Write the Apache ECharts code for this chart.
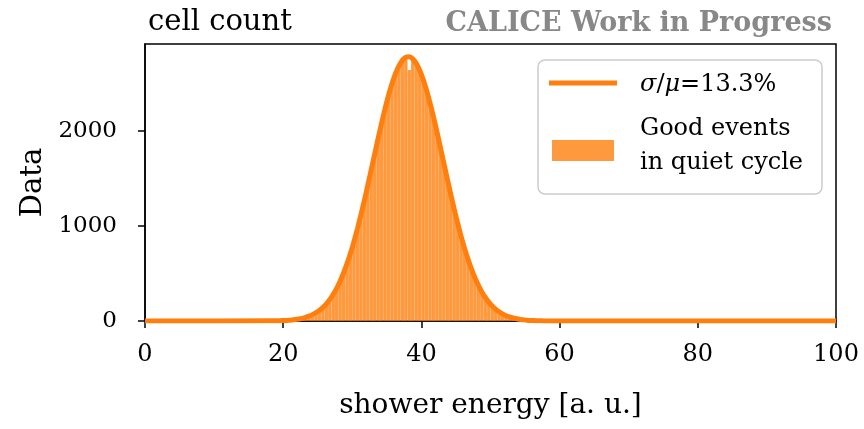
<!DOCTYPE html>
<html lang="en">

<head>
    <meta charset="UTF-8">
    <title>cell count</title>
    <script src="https://cdn.jsdelivr.net/npm/echarts@6/dist/echarts.min.js"></script>
    <style>
        body {
            margin: 0;
            background: #fff;
        }

        #main {
            width: 864px;
            height: 429px;
        }
    </style>
</head>

<body>
    <div id="main"></div>
</body>

<script>
    // histogram: bins of 0.5 starting at 15.0
    var binStart = 15.0;
    var binWidth = 0.5;
    var counts = [
        4, 5, 6, 8, 9, 11, 12, 14, 16, 18, 20, 23, 27, 31, 36, 42,
        50, 60, 74, 92, 115, 146, 184, 232, 290, 352, 425, 500, 612, 705, 845, 960,
        1125, 1250, 1440, 1575, 1770, 1905, 2100, 2215, 2390, 2480, 2625, 2690, 2765, 2770, 2640, 2760,
        2700, 2650, 2525, 2440, 2275, 2160, 1975, 1840, 1645, 1505, 1320, 1185, 1015, 900, 755, 655,
        540, 460, 370, 310, 244, 200, 155, 126, 95, 75, 56, 44, 32, 25, 18, 13,
        10, 7, 5, 4, 3, 2, 2, 1, 1, 1, 1
    ];

    // fitted curve, read at the bin centres 19.25 ... 57.75
    var fitStart = 19.25;
    var fitStep = 0.5;
    var fitValues = [
        2.7, 4, 5.6, 8, 11, 15, 21, 28, 38, 51, 67, 87, 112, 143, 181, 227,
        282, 346, 421, 507, 606, 716, 838, 972, 1116, 1269, 1429, 1593, 1759, 1924, 2084, 2235,
        2374, 2497, 2601, 2683, 2741, 2773, 2779, 2757, 2709, 2637, 2541, 2425, 2292, 2145, 1989, 1825,
        1659, 1494, 1332, 1176, 1028, 890, 763, 648, 545, 454, 375, 306, 247, 198, 157, 124,
        96, 74, 56, 43, 32, 24, 17, 13, 9, 6, 4, 3, 2, 1
    ];
    var fitTailLeft = [[0, 0], [18, 1.5]];
    var fitTailRight = [[60, 0.4], [100, 0]];

    var yTicks = [0, 1000, 2000];
    var xTicks = [0, 20, 40, 60, 80, 100];

    var fitName = 'σ/μ=13.3%';
    var histName = 'Good events\nin quiet cycle';

    var histData = counts.map(function (c, i) {
        return [binStart + i * binWidth, binStart + (i + 1) * binWidth, c];
    });
    var fitData = fitTailLeft.concat(
        fitValues.map(function (v, i) { return [fitStart + i * fitStep, v]; }),
        fitTailRight
    );

    var serif = 'DejaVu Serif';
    var orange = '#ff7f0e';
    var barFill = 'rgba(255,127,14,0.8)';

    var myChart = echarts.init(document.getElementById('main'));
    var option = {
        animation: false,
        textStyle: { fontFamily: serif, color: '#000' },
        title: [
            {
                text: 'cell count',
                left: 143, top: 3,
                textStyle: { fontFamily: serif, fontSize: 29, fontWeight: 'normal', color: '#000' }
            },
            {
                text: 'CALICE Work in Progress',
                right: 27, top: 5,
                textStyle: { fontFamily: serif, fontSize: 27, fontWeight: 'bold', color: '#888' }
            }
        ],
        grid: {
            left: 145, right: 28, top: 44, bottom: 108,
            show: true,
            borderColor: '#000',
            borderWidth: 1.5,
            backgroundColor: '#fff'
        },
        xAxis: {
            type: 'value',
            min: 0, max: 100, interval: 20,
            name: 'shower energy [a. u.]',
            nameLocation: 'middle',
            nameGap: 71,
            nameTextStyle: { fontFamily: serif, fontSize: 28, color: '#000' },
            splitLine: { show: false },
            axisLine: { onZero: false, lineStyle: { color: '#000', width: 1.5 } },
            axisTick: { length: 7, lineStyle: { color: '#000', width: 1.5 }, customValues: xTicks },
            axisLabel: { margin: 22, fontSize: 24, color: '#000', fontFamily: serif, customValues: xTicks }
        },
        yAxis: {
            type: 'value',
            min: 0, max: 2913,
            name: 'Data',
            nameLocation: 'middle',
            nameRotate: 90,
            nameGap: 88,
            nameTextStyle: { fontFamily: serif, fontSize: 29, color: '#000' },
            splitLine: { show: false },
            axisLine: { show: true, lineStyle: { color: '#000', width: 1.5 } },
            axisTick: { show: true, length: 7, lineStyle: { color: '#000', width: 1.5 }, customValues: yTicks },
            axisLabel: {
                margin: 28, fontSize: 23, color: '#000', fontFamily: serif, customValues: yTicks,
                formatter: function (v) { return String(v); }
            }
        },
        series: [
            {
                name: histName,
                type: 'custom',
                data: histData,
                encode: { x: [0, 1], y: 2 },
                renderItem: function (params, api) {
                    var p0 = api.coord([api.value(0), 0]);
                    var p1 = api.coord([api.value(1), api.value(2)]);
                    return {
                        type: 'rect',
                        shape: { x: p0[0], y: p1[1], width: p1[0] - p0[0], height: p0[1] - p1[1] },
                        style: { fill: barFill, stroke: 'rgba(255,255,255,0.12)', lineWidth: 0.5 }
                    };
                },
                z: 2
            },
            {
                name: fitName,
                type: 'line',
                data: fitData,
                showSymbol: false,
                smooth: 0.3,
                lineStyle: { color: orange, width: 5 },
                z: 3
            }
        ],
        graphic: [
            {
                type: 'rect',
                shape: { x: 538, y: 60, width: 284, height: 134, r: 7 },
                style: { fill: 'rgba(255,255,255,0.8)', stroke: '#cccccc', lineWidth: 1.5 },
                z: 10
            },
            {
                type: 'line',
                shape: { x1: 549, y1: 83, x2: 617, y2: 83 },
                style: { stroke: orange, lineWidth: 5 },
                z: 11
            },
            {
                type: 'rect',
                shape: { x: 552, y: 140, width: 62, height: 21 },
                style: { fill: barFill },
                z: 11
            },
            {
                type: 'text',
                x: 640, y: 85,
                style: {
                    text: '{i|σ}/{i|μ}=13.3%',
                    font: '24px "' + serif + '"',
                    fill: '#000',
                    verticalAlign: 'middle',
                    rich: {
                        i: { fontStyle: 'italic', fontFamily: serif, fontSize: 24, fill: '#000' }
                    }
                },
                z: 11
            },
            {
                type: 'text',
                x: 640, y: 146,
                style: {
                    text: histName,
                    font: '24px "' + serif + '"',
                    fill: '#000',
                    verticalAlign: 'middle',
                    lineHeight: 34
                },
                z: 11
            }
        ]
    };
    myChart.setOption(option);
</script>

</html>
